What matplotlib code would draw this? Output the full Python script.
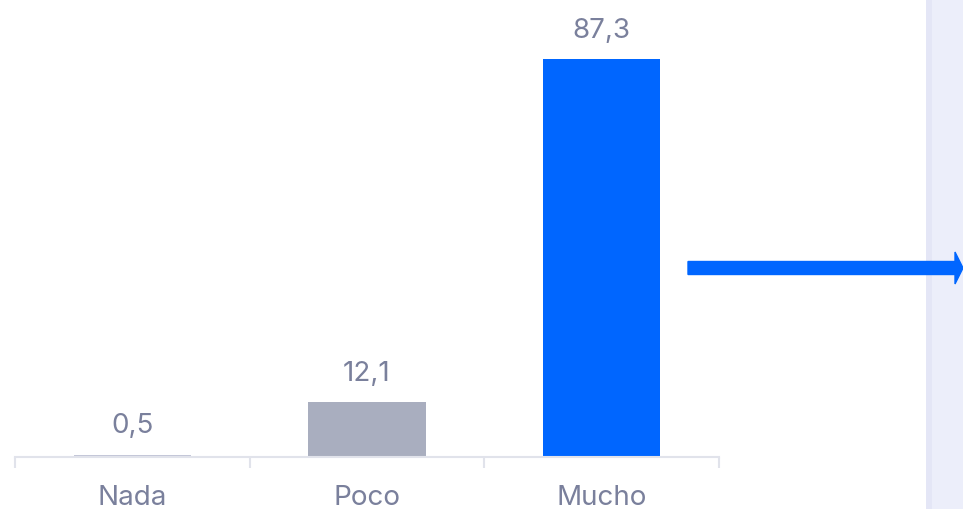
import matplotlib
matplotlib.use("Agg")
import matplotlib.pyplot as plt
from matplotlib.patches import Rectangle, FancyArrow

categories = ["Nada", "Poco", "Mucho"]
values = [0.5, 12.1, 87.3]
value_labels = ["0,5", "12,1", "87,3"]
bar_colors = ["#C3C6D8", "#A9AEBF", "#0066FF"]

W, H = 963, 509
fig = plt.figure(figsize=(W / 100, H / 100), dpi=100)
plt.rcParams['font.family'] = ['Inter', 'DejaVu Sans']

# right lavender panel
fig.patches.append(Rectangle((926 / W, 0), (W - 926) / W, 1, transform=fig.transFigure,
                             facecolor="#ECEEFA", edgecolor="none", zorder=0))
fig.patches.append(Rectangle((926 / W, 0), 6 / W, 1, transform=fig.transFigure,
                             facecolor="#E4E6F6", edgecolor="none", zorder=0))

left, right, bottom, top = 15, 719, 457, 0
ax = fig.add_axes([left / W, 1 - bottom / H, (right - left) / W, (bottom - top) / H])
ax.set_facecolor("none")
px_per_unit = (457 - 59) / 87.3
ax.set_ylim(0, (bottom - top) / px_per_unit)
ax.set_xlim(-0.5, 2.5)

x = list(range(len(categories)))
ax.bar(x, values, width=0.5, color=bar_colors, zorder=2)
for xi, v, lab in zip(x, values, value_labels):
    ax.annotate(lab, (xi, v), xytext=(0, 11), textcoords="offset points",
                ha="center", va="bottom", fontsize=20, color="#7A809C")

for s in ["top", "right", "left"]:
    ax.spines[s].set_visible(False)
ax.spines["bottom"].set_color("#E1E3EB")
ax.spines["bottom"].set_linewidth(1.5)
ax.set_yticks([])
ax.set_xticks([-0.5, 0.5, 1.5, 2.5])
ax.set_xticklabels([])
ax.set_xticks(x, minor=True)
ax.set_xticklabels(categories, minor=True)
ax.tick_params(axis="x", which="major", length=8, width=1.5, color="#E1E3EB")
ax.tick_params(axis="x", which="minor", length=0, pad=20, labelsize=20, labelcolor="#7A809C")

# arrow
fig.patches.append(FancyArrow(688 / W, 1 - 268 / H, (963 - 688) / W, 0, width=13 / H,
                              head_width=32 / H, head_length=8 / W, length_includes_head=True,
                              transform=fig.transFigure, color="#0066FF", zorder=3))

fig.savefig("out.png", dpi=100)
